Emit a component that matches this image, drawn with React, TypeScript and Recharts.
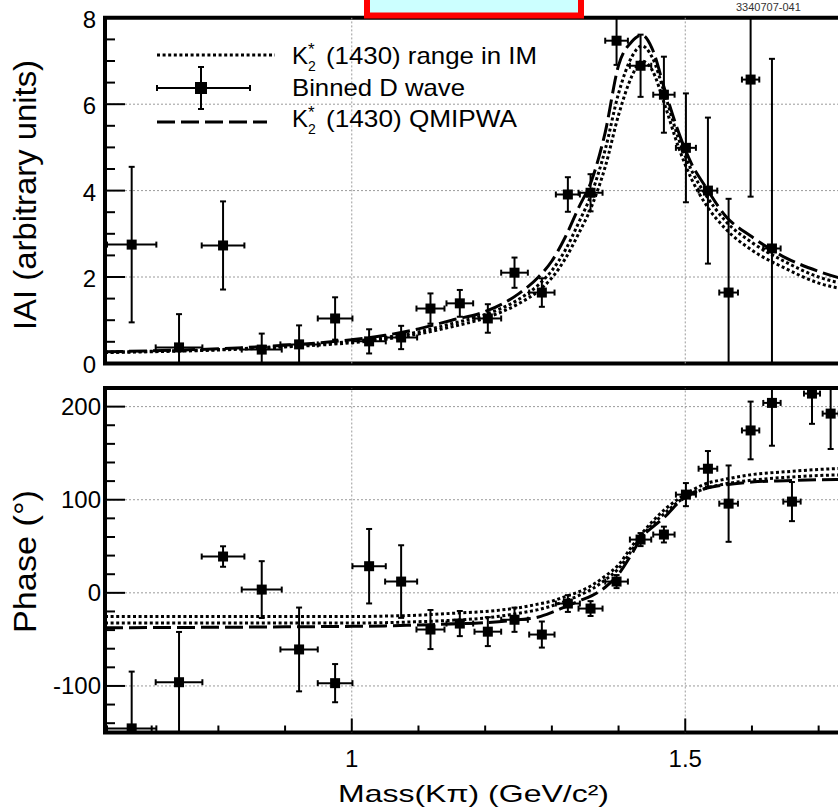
import React from 'react';
import {
  ComposedChart,
  Line,
  Scatter,
  XAxis,
  YAxis,
  ErrorBar,
  ReferenceLine,
  ReferenceArea,
  Legend,
} from 'recharts';

const FONT = '"Liberation Sans", Arial, Helvetica, sans-serif';

// ---------- data ----------
const binMass = [0.670, 0.741, 0.807, 0.865, 0.921, 0.975, 1.026, 1.074, 1.118, 1.162, 1.204, 1.244, 1.285, 1.324, 1.358, 1.397, 1.433, 1.468, 1.501, 1.534, 1.565, 1.598, 1.630, 1.660, 1.690, 1.718];
const binHalfWidth = [0.037, 0.035, 0.032, 0.030, 0.028, 0.026, 0.025, 0.024, 0.021, 0.020, 0.020, 0.020, 0.019, 0.018, 0.018, 0.017, 0.016, 0.016, 0.015, 0.014, 0.014, 0.013, 0.013, 0.013, 0.012, 0.012];
const ampValue = [2.75, 0.37, 2.73, 0.32, 0.44, 1.04, 0.51, 0.60, 1.27, 1.39, 1.04, 2.10, 1.64, 3.91, 3.95, 7.47, 6.89, 6.22, 4.99, 4.00, 1.64, 6.57, 2.66];
const ampError = [1.80, 0.77, 1.02, 0.37, 0.44, 0.49, 0.28, 0.27, 0.35, 0.31, 0.33, 0.35, 0.33, 0.40, 0.43, 0.56, 0.72, 0.88, 1.26, 1.69, 2.17, 2.71, 4.39];
const phaseValue = [-145.6, -96, 39, 3.5, -60.8, -97, 28.6, 12.1, -39.4, -33, -41.7, -28.9, -44.8, -11.5, -16.9, 12.1, 57.2, 62.6, 105.5, 133.3, 95.8, 174.4, 204, 98, 214, 192.5];
const phaseError = [61, 54, 11, 30.5, 45, 20.5, 40, 39, 21, 13.5, 15.5, 13, 14, 9, 8, 7, 7, 8.5, 12.4, 19, 41, 31, 46, 21, 32.5, 38];

const curveMass = [0.63, 0.7, 0.8, 0.9, 1.0, 1.05, 1.1, 1.15, 1.2, 1.25, 1.28, 1.3, 1.32, 1.34, 1.36, 1.38, 1.4, 1.42, 1.435, 1.45, 1.47, 1.49, 1.51, 1.53, 1.56, 1.6, 1.65, 1.7, 1.75, 1.78];
const ampQMIPWA = [0.27, 0.29, 0.34, 0.42, 0.55, 0.65, 0.80, 1.00, 1.20, 1.61, 2.00, 2.37, 2.92, 3.60, 4.25, 5.35, 6.90, 7.45, 7.60, 7.30, 6.30, 5.35, 4.60, 4.10, 3.42, 2.93, 2.45, 2.13, 1.90, 1.78];
const ampIMHigh = [0.26, 0.28, 0.32, 0.40, 0.51, 0.60, 0.73, 0.92, 1.13, 1.48, 1.82, 2.15, 2.62, 3.25, 3.95, 4.95, 6.25, 7.10, 7.35, 7.10, 6.20, 5.20, 4.45, 3.92, 3.30, 2.80, 2.35, 2.00, 1.80, 1.70];
const ampIMLow = [0.25, 0.27, 0.31, 0.38, 0.48, 0.56, 0.68, 0.85, 1.05, 1.38, 1.68, 1.98, 2.42, 3.00, 3.65, 4.55, 5.75, 6.65, 7.00, 6.80, 5.95, 5.00, 4.25, 3.70, 3.12, 2.62, 2.20, 1.86, 1.68, 1.58];
const phaseQMIPWA = [-37.5, -37.3, -37, -36.5, -36, -35.5, -34.5, -33.5, -32, -29, -26, -21, -15, -9, -3, 6, 20, 42, 60, 70, 82, 97, 107, 112, 116, 119, 120.5, 121.5, 122, 122.5];
const phaseIMHigh = [-25.5, -25.5, -25.5, -25.5, -25.5, -25, -24, -22, -20, -16, -12, -9, -4, 1, 8, 18, 30, 50, 64, 76, 90, 101, 110, 117, 122, 127, 130, 132.5, 134, 134.5];
const phaseIMMid = [-32.5, -32.5, -32.5, -32.5, -32.5, -32, -31, -29.5, -27, -22, -18, -14, -9, -3, 4, 14, 26, 46, 61, 73, 86, 98, 106, 112, 117, 121, 124, 126, 127, 127.5];

const xDomain = [0.63, 1.78];
const xTicks = [0.7, 0.8, 0.9, 1.0, 1.1, 1.2, 1.3, 1.4, 1.5, 1.6, 1.7];
const xMajorTicks = [1.0, 1.5];
const xTickLabels = ['1', '1.5'];
const ampDomain = [0, 8];
const ampTicks = [0, 0.5, 1, 1.5, 2, 2.5, 3, 3.5, 4, 4.5, 5, 5.5, 6, 6.5, 7, 7.5, 8];
const ampMajorTicks = [0, 2, 4, 6, 8];
const ampGrid = [2, 4, 6];
const phaseDomain = [-150, 220];
const phaseTicks = [-140, -120, -100, -80, -60, -40, -20, 0, 20, 40, 60, 80, 100, 120, 140, 160, 180, 200, 220];
const phaseMajorTicks = [-100, 0, 100, 200];
const phaseGrid = [-100, 0, 100, 200];

// ---------- derived tables (error bars are cut at the frame, as in the figure) ----------
const cut = (v: number, e: number, lo: number, hi: number) => [Math.min(e, v - lo), Math.min(e, hi - v)];
const ampPoints = ampValue.map((v, i) => ({
  m: binMass[i], v,
  ex: cut(binMass[i], binHalfWidth[i], xDomain[0], xDomain[1]),
  ey: cut(v, ampError[i], ampDomain[0], ampDomain[1]),
}));
const phasePoints = phaseValue.map((v, i) => ({
  m: binMass[i], v,
  ex: cut(binMass[i], binHalfWidth[i], xDomain[0], xDomain[1]),
  ey: cut(v, phaseError[i], phaseDomain[0], phaseDomain[1]),
}));
const toCurve = (arr: number[]) => curveMass.map((m, i) => ({ m, v: arr[i] }));

const GRID = { stroke: '#9a9a9a', strokeWidth: 1, strokeDasharray: '2 2' };
const DOTTED = '3 2.6';
const DASHED = '18 6';

const Square = (props: any) => {
  const { cx, cy } = props;
  if (cx == null || cy == null) return null;
  return <rect x={cx - 5} y={cy - 5} width={10} height={10} fill="#000" />;
};

const makeXTick = (withLabels: boolean) => (p: any) => {
  const { x, y, payload } = p;
  const idx = xMajorTicks.indexOf(payload.value);
  const major = idx >= 0;
  return (
    <g>
      <line x1={x} x2={x} y1={y} y2={y - (major ? 14 : 7)} stroke="#000" strokeWidth={2} />
      {withLabels && major && (
        <text x={x} y={y + 34.5} textAnchor="middle" fontSize={24} fontFamily={FONT} fill="#000">
          {xTickLabels[idx]}
        </text>
      )}
    </g>
  );
};

const makeYTick = (majors: number[], labelRight: number, baseDy: number) => (p: any) => {
  const { x, y, payload } = p;
  const major = majors.includes(payload.value);
  return (
    <g>
      <line x1={x} x2={x + (major ? 20 : 10)} y1={y} y2={y} stroke="#000" strokeWidth={2} />
      {major && (
        <text x={labelRight} y={y + baseDy} textAnchor="end" fontSize={24} fontFamily={FONT} fill="#000">
          {payload.value}
        </text>
      )}
    </g>
  );
};

const LegendBox = () => (
  <svg width={560} height={140} style={{ overflow: 'visible' }}>
    <line x1={157} x2={275} y1={55} y2={55} stroke="#000" strokeWidth={3} strokeDasharray={DOTTED} />
    <text x={292} y={64} fontSize={24} fontFamily={FONT} fill="#000">K</text>
    <text x={308} y={55} fontSize={17} fontFamily={FONT} fill="#000">*</text>
    <text x={308} y={71} fontSize={14} fontFamily={FONT} fill="#000">2</text>
    <text x={326} y={64} fontSize={24} fontFamily={FONT} fill="#000" textLength={211} lengthAdjust="spacingAndGlyphs">(1430) range in IM</text>

    <line x1={157} x2={250} y1={88} y2={88} stroke="#000" strokeWidth={2} />
    <line x1={157} x2={157} y1={85} y2={91} stroke="#000" strokeWidth={2} />
    <line x1={250} x2={250} y1={85} y2={91} stroke="#000" strokeWidth={2} />
    <line x1={201} x2={201} y1={67} y2={109} stroke="#000" strokeWidth={2} />
    <line x1={198} x2={204} y1={67} y2={67} stroke="#000" strokeWidth={2} />
    <line x1={198} x2={204} y1={109} y2={109} stroke="#000" strokeWidth={2} />
    <rect x={195} y={82} width={12} height={12} fill="#000" />
    <text x={292} y={96} fontSize={24} fontFamily={FONT} fill="#000" textLength={173} lengthAdjust="spacingAndGlyphs">Binned D wave</text>

    <line x1={157} x2={267} y1={122} y2={122} stroke="#000" strokeWidth={3} strokeDasharray={DASHED} />
    <text x={292} y={127} fontSize={24} fontFamily={FONT} fill="#000">K</text>
    <text x={308} y={118} fontSize={17} fontFamily={FONT} fill="#000">*</text>
    <text x={308} y={134} fontSize={14} fontFamily={FONT} fill="#000">2</text>
    <text x={326} y={127} fontSize={24} fontFamily={FONT} fill="#000" textLength={191} lengthAdjust="spacingAndGlyphs">(1430) QMIPWA</text>
  </svg>
);

export default function App() {
  return (
    <div style={{ position: 'absolute', left: 0, top: 0, width: 838, height: 812, overflow: 'hidden', background: '#fff' }}>
      <div style={{ position: 'absolute', left: 0, top: 0 }}>
        <ComposedChart width={880} height={400} margin={{ top: 17.8, right: 8, bottom: 36.6, left: 0 }}>
          <XAxis dataKey="m" type="number" domain={xDomain} ticks={xTicks} interval={0} allowDataOverflow
            height={0} tickSize={0} tickMargin={0} tickLine={false} axisLine={false} tick={makeXTick(false)} />
          <YAxis type="number" domain={ampDomain} ticks={ampTicks} interval={0} allowDataOverflow
            width={105} tickSize={0} tickMargin={0} tickLine={false} axisLine={false} tick={makeYTick(ampMajorTicks, 96, 10)}
            label={{
              content: () => (
                <text transform="translate(36,195) rotate(-90)" textAnchor="middle" fontSize={31} fontFamily={FONT} fill="#000" textLength={270} lengthAdjust="spacingAndGlyphs">IAI (arbitrary units)</text>
              ),
            }} />
          {xMajorTicks.map((v) => <ReferenceLine key={'vx' + v} x={v} {...GRID} />)}
          {ampGrid.map((v) => <ReferenceLine key={'gy' + v} y={v} {...GRID} />)}
          <Line data={toCurve(ampIMHigh)} dataKey="v" type="monotone" dot={false} stroke="#000" strokeWidth={3} strokeDasharray={DOTTED} isAnimationActive={false} />
          <Line data={toCurve(ampIMLow)} dataKey="v" type="monotone" dot={false} stroke="#000" strokeWidth={3} strokeDasharray={DOTTED} isAnimationActive={false} />
          <Line data={toCurve(ampQMIPWA)} dataKey="v" type="monotone" dot={false} stroke="#000" strokeWidth={3} strokeDasharray={DASHED} isAnimationActive={false} />
          <Scatter data={ampPoints} dataKey="v" shape={Square} isAnimationActive={false}>
            <ErrorBar dataKey="ey" direction="y" width={3} strokeWidth={2} stroke="#000" />
            <ErrorBar dataKey="ex" direction="x" width={3} strokeWidth={2} stroke="#000" />
          </Scatter>
          <ReferenceArea x1={xDomain[0]} x2={xDomain[1]} y1={ampDomain[0]} y2={ampDomain[1]} fill="none" stroke="#000" strokeWidth={4} ifOverflow="visible" />
          <Legend layout="horizontal" verticalAlign="middle" align="center"
            wrapperStyle={{ position: 'absolute', left: 0, top: 0, width: 560, height: 140 }}
            content={() => <LegendBox />} />
        </ComposedChart>
      </div>

      <div style={{ position: 'absolute', left: 0, top: 370 }}>
        <ComposedChart width={880} height={442} margin={{ top: 18, right: 8, bottom: 0, left: 0 }}>
          <XAxis dataKey="m" type="number" domain={xDomain} ticks={xTicks} interval={0} allowDataOverflow
            height={79.5} tickSize={0} tickMargin={0} tickLine={false} axisLine={false} tick={makeXTick(true)}
            label={{
              content: () => (
                <text x={338} y={432} fontSize={24} fontFamily={FONT} fill="#000" textLength={271} lengthAdjust="spacingAndGlyphs">Mass(Kπ) (GeV/c²)</text>
              ),
            }} />
          <YAxis type="number" domain={phaseDomain} ticks={phaseTicks} interval={0} allowDataOverflow
            width={105} tickSize={0} tickMargin={0} tickLine={false} axisLine={false} tick={makeYTick(phaseMajorTicks, 101, 8.5)}
            label={{
              content: () => (
                <text transform="translate(35.5,191.5) rotate(-90)" textAnchor="middle" fontSize={31} fontFamily={FONT} fill="#000" textLength={143} lengthAdjust="spacingAndGlyphs">Phase (°)</text>
              ),
            }} />
          {xMajorTicks.map((v) => <ReferenceLine key={'vx' + v} x={v} {...GRID} />)}
          {phaseGrid.map((v) => <ReferenceLine key={'gy' + v} y={v} {...GRID} />)}
          <Line data={toCurve(phaseIMHigh)} dataKey="v" type="monotone" dot={false} stroke="#000" strokeWidth={3} strokeDasharray={DOTTED} isAnimationActive={false} />
          <Line data={toCurve(phaseIMMid)} dataKey="v" type="monotone" dot={false} stroke="#000" strokeWidth={3} strokeDasharray={DOTTED} isAnimationActive={false} />
          <Line data={toCurve(phaseQMIPWA)} dataKey="v" type="monotone" dot={false} stroke="#000" strokeWidth={3} strokeDasharray={DASHED} isAnimationActive={false} />
          <Scatter data={phasePoints} dataKey="v" shape={Square} isAnimationActive={false}>
            <ErrorBar dataKey="ey" direction="y" width={3} strokeWidth={2} stroke="#000" />
            <ErrorBar dataKey="ex" direction="x" width={3} strokeWidth={2} stroke="#000" />
          </Scatter>
          <ReferenceArea x1={xDomain[0]} x2={xDomain[1]} y1={phaseDomain[0]} y2={phaseDomain[1]} fill="none" stroke="#000" strokeWidth={4} ifOverflow="visible" />
        </ComposedChart>
      </div>

      <svg width={838} height={40} style={{ position: 'absolute', left: 0, top: 0, pointerEvents: 'none' }}>
        <rect x={367} y={-10} width={214} height={25.5} fill="#ccffff" stroke="#ff0000" strokeWidth={6} />
        <text x={736} y={11} fontSize={11} fontFamily={FONT} fill="#333">3340707-041</text>
      </svg>
    </div>
  );
}
